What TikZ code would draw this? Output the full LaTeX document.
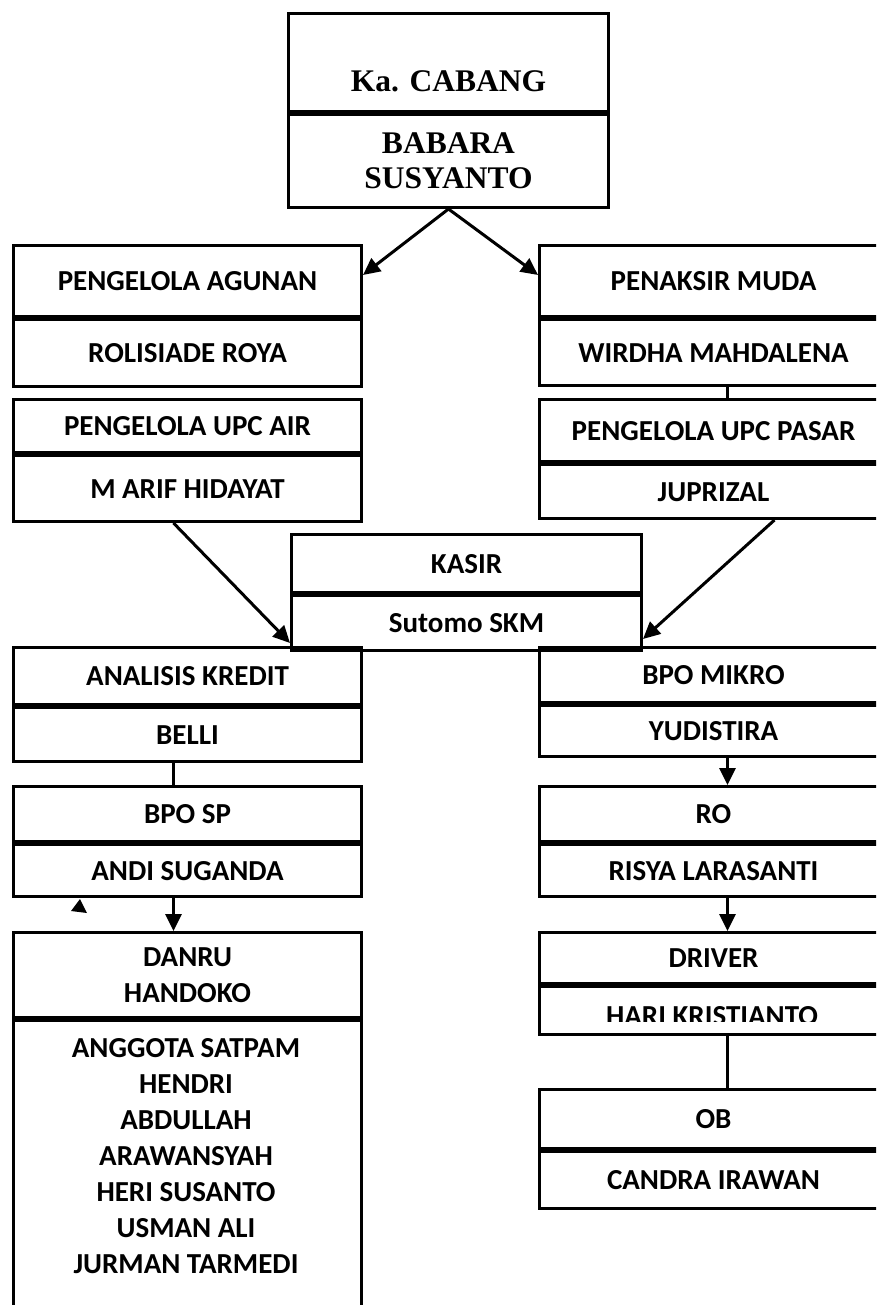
\documentclass[tikz,border=0pt]{standalone}
\usepackage{fontspec}
\setmainfont{Carlito}
\newfontfamily\timesfont{Liberation Serif}
\usetikzlibrary{arrows.meta, positioning}

\tikzset{
  part/.style={draw, line width=3pt, minimum width=348pt, inner sep=0pt, align=center,
    font=\bfseries\fontsize{29}{36}\selectfont},
  onel/.style={part, text height=19pt, text depth=0pt},
  headpart/.style={part, minimum width=320pt, font=\timesfont\bfseries\fontsize{31.5}{35}\selectfont},
  lbl/.style={inner sep=0pt, align=center, font=\bfseries\fontsize{29}{36}\selectfont},
  conn/.style={line width=3pt},
  arr/.style={conn, -{Triangle[length=17pt,width=16pt]}},
}

\begin{document}
\begin{tikzpicture}[x=1pt, y=-1pt]
\clip (0,0) rectangle (876,1305);

% kepala cabang
\node[headpart, anchor=north west, minimum height=98pt, text height=58pt, text depth=0pt] (kacabT) at (287,12) {Ka. CABANG};
\node[headpart, below=0pt of kacabT, minimum height=93pt] (kacabB) {BABARA\\SUSYANTO};

% kolom kiri
\node[onel, anchor=north west, minimum height=71pt] (agunanT) at (12,244) {PENGELOLA AGUNAN};
\node[onel, below=0pt of agunanT, minimum height=67pt] (agunanB) {ROLISIADE ROYA};

\node[onel, anchor=north west, minimum height=53pt] (upcairT) at (12,398) {PENGELOLA UPC AIR};
\node[onel, below=0pt of upcairT, minimum height=66pt] (upcairB) {M ARIF HIDAYAT};

\node[onel, anchor=north west, minimum height=57pt] (analisisT) at (12,646) {ANALISIS KREDIT};
\node[onel, below=0pt of analisisT, minimum height=54pt] (analisisB) {BELLI};

\node[onel, anchor=north west, minimum height=55pt] (bpospT) at (12,785) {BPO SP};
\node[onel, below=0pt of bpospT, minimum height=52pt] (bpospB) {ANDI SUGANDA};

\node[part, anchor=north west, minimum height=85pt] (danruT) at (12,931) {DANRU\\HANDOKO};
\node[part, below=0pt of danruT, minimum height=320pt] (satpamB) {};
\node[lbl] (satpamL) at (186,1156) {ANGGOTA SATPAM\\HENDRI\\ABDULLAH\\ARAWANSYAH\\HERI SUSANTO\\USMAN ALI\\JURMAN TARMEDI};

% kasir
\node[onel, anchor=north west, minimum width=350pt, minimum height=58pt] (kasirT) at (290,533) {KASIR};
\node[onel, below=0pt of kasirT, minimum width=350pt, minimum height=55pt] (kasirB) {Sutomo SKM};

% kolom kanan
\node[onel, anchor=north west, minimum height=71pt] (penaksirT) at (538,244) {PENAKSIR MUDA};
\node[onel, below=0pt of penaksirT, minimum height=66pt] (penaksirB) {WIRDHA MAHDALENA};

\node[onel, anchor=north west, minimum height=62pt] (upcpasarT) at (538,398) {PENGELOLA UPC PASAR};
\node[onel, below=0pt of upcpasarT, minimum height=54pt] (upcpasarB) {JUPRIZAL};

\node[onel, anchor=north west, minimum height=55pt] (bpomikroT) at (538,646) {BPO MIKRO};
\node[onel, below=0pt of bpomikroT, minimum height=51pt] (bpomikroB) {YUDISTIRA};

\node[onel, anchor=north west, minimum height=55pt] (roT) at (538,785) {RO};
\node[onel, below=0pt of roT, minimum height=52pt] (roB) {RISYA LARASANTI};

\node[onel, anchor=north west, minimum height=51pt] (driverT) at (538,931) {DRIVER};
\node[part, below=0pt of driverT, minimum height=48pt] (driverB) {};
\begin{scope}
  \clip (538,982) rectangle (886,1021);
  \node[lbl, text height=19pt, text depth=0pt] (driverL) at (712,1016) {HARI KRISTIANTO};
\end{scope}

\node[onel, anchor=north west, minimum height=59pt] (obT) at (538,1088) {OB};
\node[onel, below=0pt of obT, minimum height=57pt] (obB) {CANDRA IRAWAN};

% garis penghubung
\draw[arr] (kacabB.south) -- ([yshift=6pt]agunanT.east);
\draw[arr] (kacabB.south) -- ([yshift=6pt]penaksirT.west);
\draw[conn] ([xshift=14pt]penaksirB.south) -- ([xshift=14pt]upcpasarT.north);
\draw[arr] ([xshift=-14pt]upcairB.south) -- ([yshift=9pt]kasirB.south west);
\draw[arr] ([xshift=61pt]upcpasarB.south) -- ([yshift=13pt]kasirB.south east);
\draw[conn] ([xshift=-14pt]analisisB.south) -- ([xshift=-14pt]bpospT.north);
\draw[arr] ([xshift=-14pt]bpospB.south) -- ([xshift=-14pt]danruT.north);
\draw[arr] ([xshift=14pt]bpomikroB.south) -- ([xshift=14pt]roT.north);
\draw[arr] ([xshift=14pt]roB.south) -- ([xshift=14pt]driverT.north);
\draw[conn] ([xshift=14pt]driverB.south) -- ([xshift=14pt]obT.north);

\fill (80,899) -- (71,911) -- (87,913) -- cycle;
\end{tikzpicture}
\end{document}
